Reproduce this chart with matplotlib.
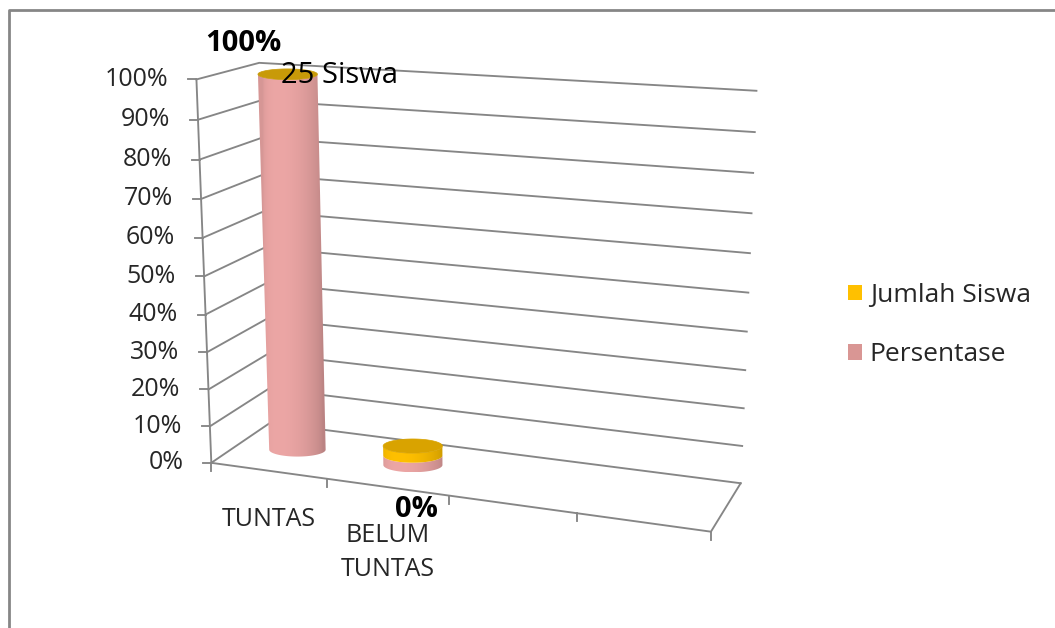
import numpy as np
import matplotlib
matplotlib.use('Agg')
import matplotlib.pyplot as plt
from matplotlib.patches import Polygon, Patch

plt.rcParams['font.family'] = ['Open Sans', 'DejaVu Sans']

# data
kategori = ['TUNTAS', 'BELUM\nTUNTAS', '', '']
persentase = [100, 0]          # Persentase series (%)
jumlah_tinggi = [0, 0]         # Jumlah Siswa series height on the % axis
label_persen = ['100%', '0%']
label_jumlah = ['25 Siswa', '']
y_ticks = list(range(0, 101, 10))
y_labels = ['%d%%' % t for t in y_ticks]
seri = ['Jumlah Siswa', 'Persentase']
warna = ['#FFC000', '#D99694']

W, H = 1055, 628
fig = plt.figure(figsize=(W / 100, H / 100), dpi=100)
ax = fig.add_axes([0, 0, 1, 1])
ax.axis('off')

# perspective of the 3d box: (slot, depth, value) -> pixel
box_w = np.array([[0, 0, 0], [0, 0, 50], [0, 0, 100], [0, 1, 100], [4, 1, 100],
                  [4, 1, 90], [4, 1, 60], [4, 1, 0], [4, 0, 0], [1, 0, 0],
                  [2, 0, 0], [3, 0, 0], [0, 1, 0]], float)
box_p = np.array([[211, 462], [204, 273], [197, 81], [258, 63], [757, 91],
                  [755, 132], [750, 253], [740, 483], [711, 529], [328, 480],
                  [448, 498], [577, 515], [271, 423]], float)
A = []
for (u, w, z), (x, y) in zip(box_w, box_p / 1000):
    z = z / 100
    A.append([u, w, z, 1, 0, 0, 0, 0, -x * u, -x * w, -x * z, -x])
    A.append([0, 0, 0, 0, u, w, z, 1, -y * u, -y * w, -y * z, -y])
M = np.linalg.svd(np.array(A))[2][-1].reshape(3, 4)


def proj(u, w, z):
    h = M @ np.array([u, w, z / 100, 1.0])
    return h[0] / h[2] * 1000, h[1] / h[2] * 1000


grid = '#868686'
glw = 1.35
n_slot = len(kategori)
# back wall + side wall grid
for z, lab in zip(y_ticks, y_labels):
    p0, p1, p2 = proj(0, 0, z), proj(0, 1, z), proj(n_slot, 1, z)
    ax.plot([p0[0], p1[0], p2[0]], [p0[1], p1[1], p2[1]], color=grid, lw=glw, zorder=1)
    ax.plot([p0[0] - 8, p0[0]], [p0[1], p0[1]], color=grid, lw=glw, zorder=1)
    ax.text(p0[0] - 28, p0[1], lab, ha='right', va='center', fontsize=18, color='#262626')
# left axis and floor
a0, a1 = proj(0, 0, 0), proj(0, 0, 100)
ax.plot([a0[0], a1[0]], [a0[1], a1[1]], color=grid, lw=glw, zorder=1)
f0, f1, f2 = proj(0, 0, 0), proj(n_slot, 0, 0), proj(n_slot, 1, 0)
ax.plot([f0[0], f1[0], f2[0]], [f0[1], f1[1], f2[1]], color=grid, lw=glw, zorder=1)
for i in range(n_slot + 1):
    px, py = proj(i, 0, 0)
    ax.plot([px, px], [py, py + 8], color=grid, lw=glw, zorder=1)
for i, lab in enumerate(kategori):
    px, py = proj(i + 0.5, 0, 0)
    ax.text(px, py + 36, lab, ha='center', va='top', fontsize=18, color='#262626',
            linespacing=1.45)

# cylinders
r, rw, wc = 0.25, 0.17, 0.5
disc = 2.6


def ring(uc, z):
    cx, cy = proj(uc, wc, z)
    a = (proj(uc + r, wc, z)[0] - proj(uc - r, wc, z)[0]) / 2
    b = abs(proj(uc, wc - rw, z)[1] - proj(uc, wc + rw, z)[1]) / 2
    return cx, cy, a, max(b, 0.18 * a)


def shade(rgb, t):
    f = 0.76 + 0.24 * ((1 + np.cos(t - 1.35 * np.pi)) / 2) ** 1.5
    return np.clip(np.outer(f, rgb), 0, 1)


def cylinder(uc, z0, z1, side, top, zo):
    t = np.linspace(np.pi, 2 * np.pi, 80)
    if z1 > z0:
        bx, by, ba, bb = ring(uc, z0)
        tx, ty, ta, tb = ring(uc, z1)
        xs = np.concatenate([bx + ba * np.cos(t), (tx + ta * np.cos(t))[::-1]])
        ys = np.concatenate([by - bb * np.sin(t), (ty - tb * np.sin(t))[::-1]])
        poly = Polygon(np.column_stack([xs, ys]), closed=True, fc='none', ec='none')
        ax.add_patch(poly)
        cx, a = (bx + tx) / 2, max(ba, ta)
        xx = np.linspace(xs.min(), xs.max(), 300)
        tt = 2 * np.pi - np.arccos(np.clip((xx - cx) / a, -1, 1))
        img = shade(side, tt)[None, :, :]
        im = ax.imshow(img, extent=(xs.min(), xs.max(), ys.max(), ys.min()),
                       aspect='auto', interpolation='bilinear', zorder=zo)
        im.set_clip_path(poly)
    if top is not None:
        tx, ty, ta, tb = ring(uc, z1)
        tt = np.linspace(0, 2 * np.pi, 120)
        ax.add_patch(Polygon(np.column_stack([tx + ta * np.cos(tt), ty - tb * np.sin(tt)]),
                             closed=True, fc=top, ec=top, lw=0.5, zorder=zo + 0.5))


pink = np.array([236, 166, 165]) / 255
yel = np.array([255, 192, 0]) / 255
for i, (p, j) in enumerate(zip(persentase, jumlah_tinggi)):
    uc = i + 0.5
    hp = p if p > 0 else disc
    hj = j if (j > 0 or p > 0) else disc
    gold = '#C89A08' if p > 0 else '#D9A300'
    cylinder(uc, 0, hp, pink, None, 5)
    cylinder(uc, hp, hp + hj, yel, gold, 6)
    cx, cy = proj(uc, wc, hp)
    if p > 0:
        ax.text(cx - 44, cy - 31, label_persen[i], ha='center', va='center',
                fontsize=21, fontweight='bold', color='black', zorder=10)
    else:
        ax.text(cx + 4, cy + 54, label_persen[i], ha='center', va='center',
                fontsize=21, fontweight='bold', color='black', zorder=10)
    if label_jumlah[i]:
        tx, ty = proj(uc, wc, hp + hj)
        ax.text(tx - 7, ty + 1, label_jumlah[i], ha='left', va='center',
                fontsize=21, color='black', zorder=10)

# legend
handles = [Patch(facecolor=c, edgecolor='none') for c in warna]
ax.legend(handles, seri, loc='upper left', bbox_to_anchor=(848 / W, 1 - 283 / H),
          bbox_transform=fig.transFigure, frameon=False, fontsize=19,
          handlelength=0.52, handleheight=0.52, handletextpad=0.3,
          labelspacing=1.3, borderpad=0, borderaxespad=0, labelcolor='#262626')

# outer chart border
ax.plot([9, 9, W], [H, 10, 10], color=grid, lw=2, clip_on=False, zorder=0)

ax.set_xlim(0, W)
ax.set_ylim(H, 0)
fig.savefig('out.png', dpi=100)
